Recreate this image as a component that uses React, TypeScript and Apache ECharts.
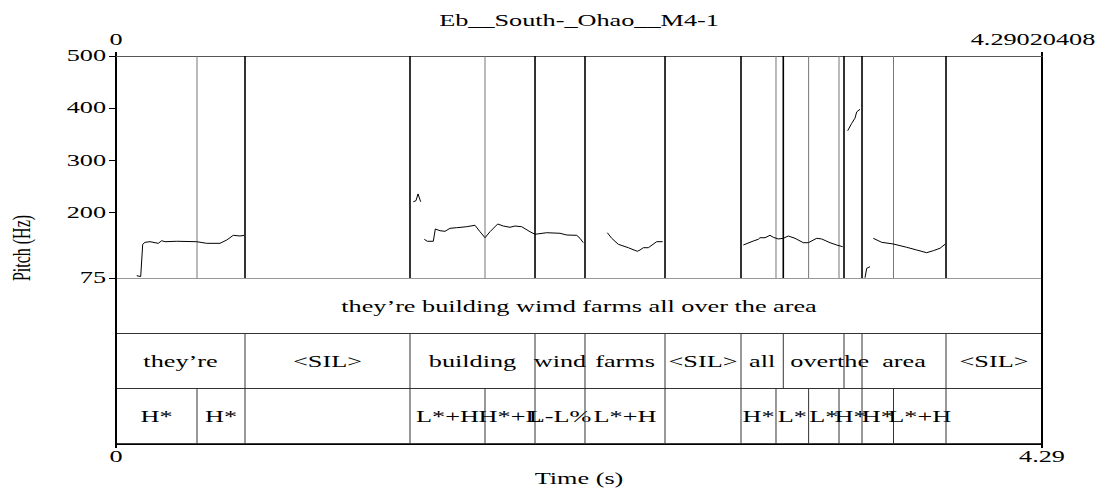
import React, { useEffect, useRef } from "react";
import * as echarts from "echarts";

// ---------- texts ----------
const TITLE = "Eb__South-_Ohao__M4-1";
const X_NAME = "Time (s)";
const Y_NAME = "Pitch (Hz)";

// ---------- axes ----------
const T_START = 0;
const T_END = 4.29020408;
const PITCH_MIN = 75;
const PITCH_MAX = 500;
const PITCH_TICKS = [75, 200, 300, 400, 500];
const TOP_TIME_LABELS = ["0", "4.29020408"];
const BOTTOM_TIME_LABELS = ["0", "4.29"];

// ---------- text grid tiers ----------
const SENTENCE = "they’re building wimd farms all over the area";
const WORD_STARTS = [0, 0.5977, 1.3621, 1.9413, 2.1729, 2.5436, 2.8957, 3.0916, 3.3729, 3.4563, 3.8455];
const WORD_LABELS = ["they’re", "<SIL>", "building", "wind", "farms", "<SIL>", "all", "over", "the", "area", "<SIL>"];
const TONE_STARTS = [0, 0.3753, 0.5977, 1.3621, 1.7096, 1.9413, 2.1729, 2.5436, 2.8957, 3.0578, 3.2089, 3.3497, 3.4563, 3.6022, 3.8455];
const TONE_LABELS = ["H*", "H*", "", "L*+H", "H*+L", "L-L%", "L*+H", "", "H*", "L*", "L*", "H*", "H*", "L*+H", ""];

// ---------- pitch contour segments [time s, pitch Hz] ----------
const segTheyre: [number, number][] = [
  [0.0959, 79.4], [0.1144, 77.8], [0.1237, 139.5], [0.1344, 143.3], [0.1575, 144.5], [0.1807, 142.6],
  [0.196, 141.4], [0.2117, 146.4], [0.227, 144.5], [0.2812, 145.3], [0.3739, 144.5], [0.4202, 141.4],
  [0.4818, 141.4], [0.5129, 147.7], [0.5435, 156.7], [0.5745, 155.4], [0.593, 156.7],
];
const segBlip: [number, number][] = [[1.3774, 221], [1.3899, 223], [1.3992, 236], [1.4117, 221]];
const segBuildingWind: [number, number][] = [
  [1.4284, 149.1], [1.4423, 145.3], [1.4701, 145.3], [1.4794, 168.8], [1.5011, 165.5], [1.5243, 164.4],
  [1.5475, 170.1], [1.5785, 171.3], [1.6248, 173.2], [1.6633, 175.9], [1.6865, 163.6], [1.7096, 152.1],
  [1.7328, 163.6], [1.7684, 178.4], [1.7944, 174.5], [1.8254, 172.1], [1.8486, 174.5], [1.8796, 173.2],
  [1.9181, 163.6], [1.9413, 158.7], [1.9955, 161.7], [2.0571, 160.6], [2.0881, 157.3], [2.1345, 156.7],
  [2.1497, 151.0], [2.165, 142.6],
];
const segFarms: [number, number][] = [
  [2.2763, 161.7], [2.2967, 151.0], [2.3273, 139.5], [2.3736, 133.0], [2.4153, 126.1], [2.4277, 128.6],
  [2.4431, 133.0], [2.4662, 133.0], [2.5051, 144.5], [2.5329, 144.5],
];
const segAllOver: [number, number][] = [
  [2.9064, 138.2], [2.9527, 145.8], [2.9759, 149.1], [2.9837, 152.1], [3.0069, 152.1], [3.03, 156.7],
  [3.0453, 152.9], [3.0685, 149.7], [3.0916, 151.0], [3.1148, 155.4], [3.1459, 151.0], [3.1843, 142.6],
  [3.2075, 142.6], [3.2464, 151.0], [3.2696, 149.7], [3.308, 142.6], [3.339, 138.2], [3.3668, 134.9],
];
const segHigh: [number, number][] = [[3.39, 357], [3.4085, 371], [3.4238, 381], [3.4317, 393], [3.447, 398]];
const segLow: [number, number][] = [[3.4702, 75.5], [3.4781, 93.6], [3.4934, 96.6]];
const segArea: [number, number][] = [
  [3.5086, 151.0], [3.5475, 143.3], [3.6013, 140.1], [3.6633, 133.8], [3.7097, 128.6], [3.756, 123.4],
  [3.7866, 127.3], [3.8176, 131.9], [3.8408, 139.5],
];
const PITCH_SEGMENTS = [segTheyre, segBlip, segBuildingWind, segFarms, segAllOver, segHigh, segLow, segArea];

// ---------- style ----------
const FONT = "16px 'Liberation Serif', 'Times New Roman', serif";
const SX = 1.64; // horizontal text stretch seen in the reference

function textStyle(text: string, align: string, vAlign = "middle") {
  return {
    text,
    fill: "#000",
    font: FONT,
    align,
    verticalAlign: vAlign,
    textAlign: align,
    textVerticalAlign: vAlign,
  };
}

function intervals(starts: number[], labels: string[], tier: number) {
  return starts.map((s, i) => [s, i + 1 < starts.length ? starts[i + 1] : T_END, tier, labels[i]] as [number, number, number, string]);
}

export default function App() {
  const ref = useRef<HTMLDivElement>(null);

  useEffect(() => {
    if (!ref.current) return;
    const chart = echarts.init(ref.current, undefined, { renderer: "svg" });

    const tierData = [
      [T_START, T_END, 0, SENTENCE] as [number, number, number, string],
      ...intervals(WORD_STARTS, WORD_LABELS, 1),
      ...intervals(TONE_STARTS, TONE_LABELS, 2),
    ];

    const wordBounds = WORD_STARTS.filter((t) => t > T_START);
    const toneOnly = TONE_STARTS.filter((t) => t > T_START && !WORD_STARTS.includes(t));
    const boundaryData = [
      ...toneOnly.map((t) => [t, 0]),
      ...wordBounds.map((t) => [t, 1]),
    ];

    const option: any = {
      animation: false,
      backgroundColor: "#fff",
      grid: [
        { left: 116, top: 56, width: 926, height: 222, outerBoundsMode: "none" },
        { left: 116, top: 278, width: 926, height: 166, outerBoundsMode: "none" },
      ],
      xAxis: [
        {
          gridIndex: 0, type: "value", min: T_START, max: T_END, position: "top",
          axisLine: { show: true, onZero: false, lineStyle: { color: "#555", width: 1 } },
          axisTick: { show: true, customValues: [T_START, T_END], length: 4, lineStyle: { color: "#000", width: 2 } },
          axisLabel: { show: false }, splitLine: { show: false },
        },
        {
          gridIndex: 1, type: "value", min: T_START, max: T_END, position: "bottom",
          axisLine: { show: true, onZero: false, lineStyle: { color: "#000", width: 1.5 } },
          axisTick: { show: true, customValues: [T_START, T_END], length: 4, lineStyle: { color: "#000", width: 2 } },
          axisLabel: { show: false }, splitLine: { show: false },
        },
      ],
      yAxis: [
        {
          gridIndex: 0, type: "value", min: PITCH_MIN, max: PITCH_MAX, position: "left",
          axisLine: { show: true, onZero: false, lineStyle: { color: "#000", width: 2 } },
          axisTick: { show: true, customValues: PITCH_TICKS, length: 7, lineStyle: { color: "#000", width: 1 } },
          axisLabel: { show: false }, splitLine: { show: false },
        },
        {
          gridIndex: 0, type: "value", min: PITCH_MIN, max: PITCH_MAX, position: "right",
          axisLine: { show: true, onZero: false, lineStyle: { color: "#000", width: 2 } },
          axisTick: { show: false }, axisLabel: { show: false }, splitLine: { show: false },
        },
        {
          gridIndex: 1, type: "value", min: 0, max: 3, interval: 1, inverse: true, position: "left",
          axisLine: { show: true, onZero: false, lineStyle: { color: "#000", width: 2 } },
          axisTick: { show: false }, axisLabel: { show: false },
          splitLine: { show: true, lineStyle: { color: ["#999", "#333", "#333", "#000"], width: 1 } },
        },
        {
          gridIndex: 1, type: "value", min: 0, max: 3, interval: 1, inverse: true, position: "right",
          axisLine: { show: true, onZero: false, lineStyle: { color: "#000", width: 2 } },
          axisTick: { show: false }, axisLabel: { show: false }, splitLine: { show: false },
        },
      ],
      series: [
        // boundary lines through the pitch area
        {
          type: "custom", xAxisIndex: 0, yAxisIndex: 0, clip: false, silent: true,
          data: boundaryData,
          encode: { x: 0, y: 1 },
          renderItem: (params: any, api: any) => {
            const t = api.value(0);
            const isWord = api.value(1) === 1;
            const p0 = api.coord([t, PITCH_MAX]);
            const p1 = api.coord([t, PITCH_MIN]);
            return {
              type: "line",
              shape: { x1: p0[0], y1: p0[1], x2: p1[0], y2: p1[1] },
              style: { stroke: isWord ? "#000" : "#777", lineWidth: isWord ? 1.6 : 1 },
            };
          },
        },
        // pitch contour
        ...PITCH_SEGMENTS.map((seg) => ({
          type: "line", xAxisIndex: 0, yAxisIndex: 0, data: seg, showSymbol: false, symbol: "none",
          lineStyle: { color: "#000", width: 1 }, silent: true, clip: true,
        })),
        // y tick labels
        {
          type: "custom", xAxisIndex: 0, yAxisIndex: 0, clip: false, silent: true,
          data: PITCH_TICKS.map((v) => [T_START, v]),
          encode: { x: 0, y: 1 },
          renderItem: (params: any, api: any) => {
            const p = api.coord([api.value(0), api.value(1)]);
            return {
              type: "text", x: p[0] - 10, y: p[1], scaleX: SX,
              style: textStyle(String(PITCH_TICKS[params.dataIndex]), "right"),
            };
          },
        },
        // top time labels
        {
          type: "custom", xAxisIndex: 0, yAxisIndex: 0, clip: false, silent: true,
          data: [[T_START, PITCH_MAX], [T_END, PITCH_MAX]],
          encode: { x: 0, y: 1 },
          renderItem: (params: any, api: any) => {
            const p = api.coord([api.value(0), api.value(1)]);
            return {
              type: "text", x: p[0] - (params.dataIndex === 1 ? 9 : 0), y: p[1] - 16, scaleX: SX,
              style: textStyle(TOP_TIME_LABELS[params.dataIndex], "center"),
            };
          },
        },
        // bottom time labels
        {
          type: "custom", xAxisIndex: 1, yAxisIndex: 2, clip: false, silent: true,
          data: [[T_START, 3], [T_END, 3]],
          encode: { x: 0, y: 1 },
          renderItem: (params: any, api: any) => {
            const p = api.coord([api.value(0), api.value(1)]);
            return {
              type: "text", x: p[0], y: p[1] + 13, scaleX: SX,
              style: textStyle(BOTTOM_TIME_LABELS[params.dataIndex], "center"),
            };
          },
        },
        // text grid tiers
        {
          type: "custom", xAxisIndex: 1, yAxisIndex: 2, clip: false, silent: true,
          data: tierData.map((d) => [d[0], d[1], d[2]]),
          encode: { x: [0, 1], y: 2 },
          renderItem: (params: any, api: any) => {
            const s = api.value(0);
            const e = api.value(1);
            const tier = api.value(2);
            const label = tierData[params.dataIndex][3];
            const p0 = api.coord([s, tier]);
            const p1 = api.coord([e, tier + 1]);
            const children: any[] = [];
            if (s > T_START) {
              children.push({
                type: "line",
                shape: { x1: p0[0], y1: p0[1], x2: p0[0], y2: p1[1] },
                style: { stroke: "#333", lineWidth: 1 },
              });
            }
            if (label) {
              children.push({
                type: "text", x: (p0[0] + p1[0]) / 2, y: (p0[1] + p1[1]) / 2 + 1, scaleX: SX,
                style: textStyle(label, "center"),
              });
            }
            return { type: "group", children };
          },
        },
      ],
      graphic: [
        { type: "text", x: 579, y: 21, scaleX: SX, style: textStyle(TITLE, "center"), silent: true },
        { type: "text", x: 579, y: 479, scaleX: SX, style: textStyle(X_NAME, "center"), silent: true },
        {
          type: "text", x: 22, y: 248, rotation: Math.PI / 2, scaleY: SX,
          style: textStyle(Y_NAME, "center"), silent: true,
        },
      ],
    };

    chart.setOption(option);
    return () => chart.dispose();
  }, []);

  return (
    <div
      ref={ref}
      style={{ position: "fixed", left: 0, top: 0, width: 1108, height: 489, background: "#fff" }}
    />
  );
}
